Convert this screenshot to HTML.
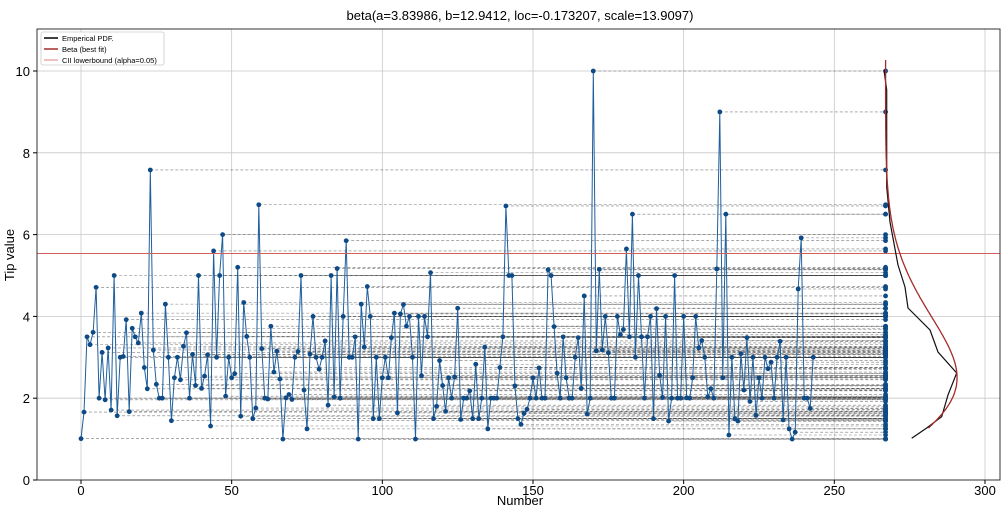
<!DOCTYPE html>
<html><head><meta charset="utf-8"><style>
html,body{margin:0;padding:0;background:#fff;}
svg{display:block;font-family:"Liberation Sans","DejaVu Sans",sans-serif;}
</style></head><body>
<svg id="s" width="1005" height="513" viewBox="0 0 1005 513" xmlns="http://www.w3.org/2000/svg">
<rect width="1005" height="513" fill="#fff"/>
<text x="520" y="20" font-size="13" text-anchor="middle" fill="#000">beta(a=3.83986, b=12.9412, loc=-0.173207, scale=13.9097)</text>
<g id="grid"></g>
<g id="dash"></g>
<g id="data"></g>
<g id="curves"></g>
<rect x="37" y="29" width="963" height="451" fill="none" stroke="#333" stroke-width="1"/>
<g id="ticks" font-size="13" fill="#000"></g>
<text x="520" y="505" font-size="13" text-anchor="middle">Number</text>
<text x="14" y="255" font-size="13" text-anchor="middle" transform="rotate(-90 14 255)">Tip value</text>
<g font-size="7.5">
<rect x="41" y="32" width="123" height="33" fill="#fff" stroke="#ccc" stroke-width="0.8" rx="2"/>
<line x1="44" y1="38" x2="58" y2="38" stroke="#000" stroke-width="1.5"/>
<text x="62" y="41">Emperical PDF.</text>
<line x1="44" y1="49" x2="58" y2="49" stroke="#a52a2a" stroke-width="1.5"/>
<text x="62" y="52">Beta (best fit)</text>
<line x1="44" y1="60" x2="58" y2="60" stroke="#e08080" stroke-width="1"/>
<text x="62" y="63">CII lowerbound (alpha=0.05)</text>
</g>
</svg>
<script>
var d=[1.01,1.66,3.5,3.31,3.61,4.71,2,3.12,1.96,3.23,1.71,5,1.57,3,3.02,3.92,1.67,3.71,3.5,3.35,4.08,2.75,2.23,7.58,3.18,2.34,2,2,4.3,3,1.45,2.5,3,2.45,3.27,3.6,2,3.07,2.31,5,2.24,2.54,3.06,1.32,5.6,3,5,6,2.05,3,2.5,2.6,5.2,1.56,4.34,3.51,3,1.5,1.76,6.73,3.21,2,1.98,3.76,2.64,3.15,2.47,1,2.01,2.09,1.97,3,3.14,5,2.2,1.25,3.08,4,3,2.71,3,3.4,1.83,5,2.03,5.17,2,4,5.85,3,3,3.5,1,4.3,3.25,4.73,4,1.5,3,1.5,2.5,3,2.5,3.48,4.08,1.64,4.06,4.29,3.76,4,3,1,4,2.55,4,3.5,5.07,1.5,1.8,2.92,2.31,1.68,2.5,2,2.52,4.2,1.48,2,2,2.18,1.5,2.83,1.5,2,3.25,1.25,2,2,2,2.75,3.5,6.7,5,5,2.3,1.5,1.36,1.63,1.73,2,2.5,2,2.74,2,2,5.14,5,3.75,2.61,2,3.5,2.5,2,2,3,3.48,2.24,4.5,1.61,2,10,3.16,5.15,3.18,4,3.11,2,2,4,3.55,3.68,5.65,3.5,6.5,3,5,3.5,2,3.5,4,1.5,4.19,2.56,2.02,4,1.44,2,5,2,2,4,2.01,2,2.5,4,3.23,3.41,3,2.03,2.23,2,5.16,9,2.5,6.5,1.1,3,1.5,1.44,3.09,2.2,3.48,1.92,3,1.58,2.5,2,3,2.72,2.88,2,3,3.39,1.47,3,1.25,1,1.17,4.67,5.92,2,2,1.75,3];
var NS="http://www.w3.org/2000/svg";
function X(v){return 81+v*3.0133;}function Y(v){return 480-v*40.9;}
function el(p,t,a){var e=document.createElementNS(NS,t);for(var k in a)e.setAttribute(k,a[k]);document.getElementById(p).appendChild(e);return e;}
for(var i=0;i<=300;i+=50){el("grid","line",{x1:X(i),x2:X(i),y1:29,y2:480,stroke:"#c8c8c8","stroke-width":0.8});
 var t=el("ticks","text",{x:X(i),y:495,"text-anchor":"middle"});t.textContent=i;el("ticks","line",{x1:X(i),x2:X(i),y1:480,y2:484,stroke:"#000"});}
for(var j=0;j<=10;j+=2){el("grid","line",{x1:37,x2:1000,y1:Y(j),y2:Y(j),stroke:"#c8c8c8","stroke-width":0.8});
 var t=el("ticks","text",{x:30,y:Y(j)+5,"text-anchor":"end"});t.textContent=j;el("ticks","line",{x1:33,x2:37,y1:Y(j),y2:Y(j),stroke:"#000"});}
var cx=X(267);
var pts=[];
for(var i=0;i<d.length;i++){
 el("dash","line",{x1:X(i),x2:cx,y1:Y(d[i]),y2:Y(d[i]),stroke:"#333","stroke-width":0.6,"stroke-dasharray":"3,2",opacity:0.65});
 pts.push(X(i).toFixed(1)+","+Y(d[i]).toFixed(1));}
el("data","polyline",{points:pts.join(" "),fill:"none",stroke:"#1f5f9c","stroke-width":1});
for(var i=0;i<d.length;i++){el("data","circle",{cx:X(i),cy:Y(d[i]),r:2.4,fill:"#0d4a86"});el("data","circle",{cx:cx,cy:Y(d[i]),r:2.4,fill:"#0d4a86"});}
el("curves","line",{x1:37,x2:1000,y1:253.5,y2:253.5,stroke:"#d06060","stroke-width":1});
function lg(z){var g=[676.5203681218851,-1259.1392167224028,771.32342877765313,-176.61502916214059,12.507343278686905,-0.13857109526572012,9.9843695780195716e-6,1.5056327351493116e-7];z-=1;var x=0.99999999999980993;for(var i=0;i<8;i++)x+=g[i]/(z+i+1);var t=z+7.5;return 0.5*Math.log(2*Math.PI)+(z+0.5)*Math.log(t)-t+Math.log(x);}
var a=3.83986,b=12.9412,loc=-0.173207,sc=13.9097,lB=lg(a)+lg(b)-lg(a+b);
function pdf(y){var z=(y-loc)/sc;if(z<=0||z>=1)return 0;return Math.exp((a-1)*Math.log(z)+(b-1)*Math.log(1-z)-lB)/sc;}
var mx=0;for(var y=1;y<10.5;y+=0.01)mx=Math.max(mx,pdf(y));
var rp=[];for(var y=1.27;y<=10.27;y+=0.03)rp.push((cx+pdf(y)/mx*71.5).toFixed(1)+","+Y(y).toFixed(1));
el("curves","polyline",{points:"911.7,438.3 926.7,428 941.7,416.7 948,395 956.7,373 938,352 930,330 908,308 905,287 898,265 890,222 886.7,187 886.7,90 884,70",fill:"none",stroke:"#111","stroke-width":1.2});
el("curves","polyline",{points:rp.join(" "),fill:"none",stroke:"#a52a2a","stroke-width":1.3});
</script>
</body></html>
